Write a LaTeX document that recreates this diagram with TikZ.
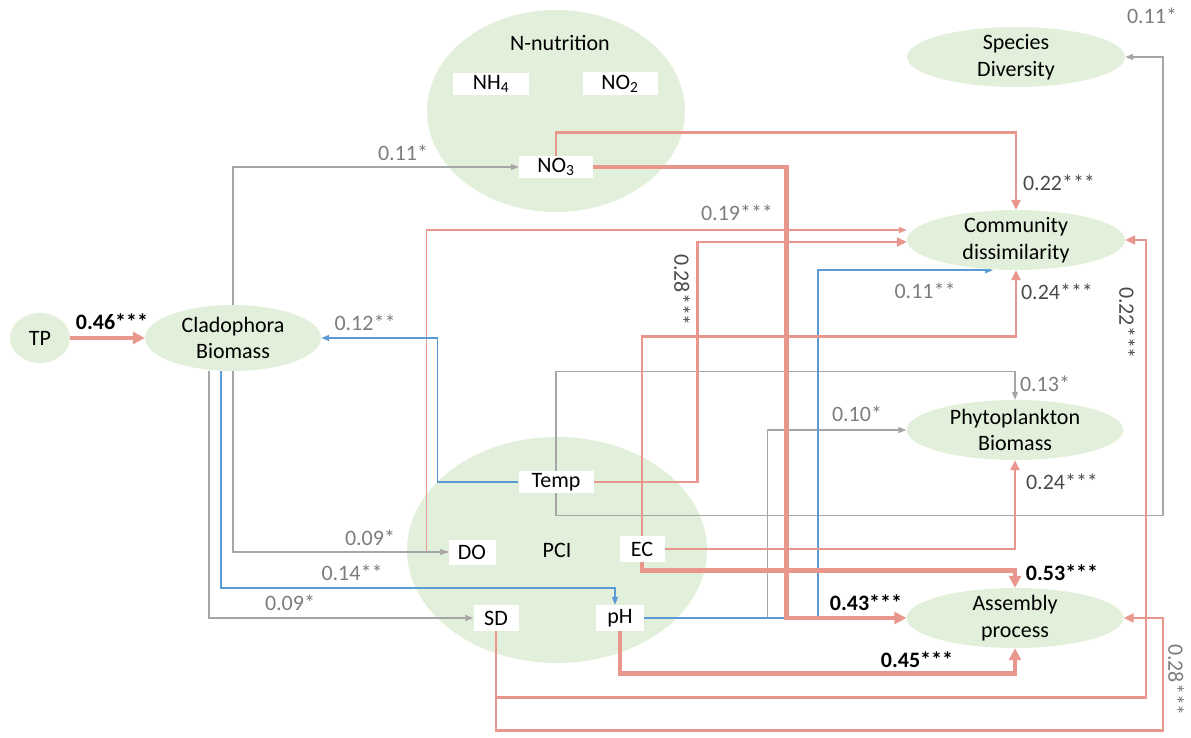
\documentclass[tikz,border=0pt]{standalone}
\usepackage{fontspec}
\setmainfont{Carlito}
\usetikzlibrary{arrows.meta,shapes.geometric}
\pgfdeclarelayer{bg}
\pgfdeclarelayer{lines}
\pgfsetlayers{bg,lines,main}
\definecolor{rd}{RGB}{233,150,140}
\definecolor{bl}{RGB}{91,155,213}
\definecolor{gr}{RGB}{166,166,166}
\definecolor{gf}{RGB}{226,239,218}
\definecolor{lg}{RGB}{125,125,125}
\definecolor{dg}{RGB}{75,75,75}
\begin{document}
\begin{tikzpicture}[x=1pt,y=-1pt,
 font=\fontsize{22}{26.5}\selectfont,
 ell/.style={ellipse,fill=gf,inner sep=0pt},
 etxt/.style={align=center,inner sep=0pt},
 wbox/.style={rectangle,fill=white,inner sep=0pt,align=center},
 thinr/.style={draw=rd,line width=1.3pt,-{Triangle[length=8pt,width=6pt]}},
 medr/.style={draw=rd,line width=2.9pt,-{Triangle[length=10pt,width=9pt]}},
 thickr/.style={draw=rd,line width=4.6pt,-{Triangle[length=12pt,width=12pt]}},
 gline/.style={draw=gr,line width=1.3pt,-{Triangle[length=8pt,width=6pt]}},
 bline/.style={draw=bl,line width=1.5pt,-{Triangle[length=8pt,width=6pt]}},
 lbl/.style={text=lg,inner sep=0pt},
 dlbl/.style={text=dg,inner sep=0pt},
 blbl/.style={font=\fontsize{22}{26.5}\selectfont\bfseries,text=black,inner sep=0pt},
]
\useasboundingbox (0,0) rectangle (1191,738);

% big group ellipses
\begin{pgfonlayer}{bg}
\node[ell,minimum width=258pt,minimum height=202pt] (nnut) at (556,111) {};
\node[ell,minimum width=300pt,minimum height=226pt] (pci) at (557,550) {};
\end{pgfonlayer}
\node[etxt] (nnutt) at (560,43) {N-nutrition};
\node[etxt] (pcit) at (557,550) {PCI};

% ellipses
\node[ell,minimum width=60pt,minimum height=50pt] (tp) at (40,338) {};
\node[etxt] (tpt) at (tp) {TP};
\node[ell,minimum width=176pt,minimum height=66pt] (clado) at (233,338) {};
\node[etxt] (cladot) at (clado) {Cladophora\\Biomass};
\node[ell,minimum width=218pt,minimum height=60pt] (species) at (1016,57) {};
\node[etxt] (speciest) at (species) {Species\\Diversity};
\node[ell,minimum width=218pt,minimum height=60pt] (comm) at (1016,240) {};
\node[etxt] (commt) at (comm) {Community\\dissimilarity};
\node[ell,minimum width=217pt,minimum height=60pt] (phyto) at (1015,430) {};
\node[etxt] (phytot) at (phyto) {Phytoplankton\\Biomass};
\node[ell,minimum width=217pt,minimum height=60pt] (asm) at (1015,618) {};
\node[etxt] (asmt) at (asm) {Assembly\\process};

% white boxes
\node[wbox,minimum width=76pt,minimum height=22pt] (nh4) at (491,84) {NH\textsubscript{4}};
\node[wbox,minimum width=75pt,minimum height=23pt] (no2) at (620,84) {NO\textsubscript{2}};
\node[wbox,minimum width=74pt,minimum height=22pt] (no3) at (556,167) {NO\textsubscript{3}};
\node[wbox,minimum width=75pt,minimum height=22pt] (temp) at (556,482) {Temp};
\node[wbox,minimum width=47pt,minimum height=25pt] (do) at (472,552) {DO};
\node[wbox,minimum width=45pt,minimum height=26pt] (ec) at (642,549) {EC};
\node[wbox,minimum width=45pt,minimum height=26pt] (sd) at (496,618) {SD};
\node[wbox,minimum width=48pt,minimum height=26pt] (ph) at (620,618) {pH};

% labels
\node[blbl] (l046) at (112,322) {0.46***};
\node[lbl] (l012) at (365,323) {0.12**};
\node[lbl] (l011a) at (403,153) {0.11*};
\node[dlbl] (l022a) at (1059,183) {0.22***};
\node[lbl] (l019) at (737,213) {0.19***};
\node[dlbl,rotate=-90] (l028a) at (682,290) {0.28***};
\node[lbl] (l011b) at (925,291) {0.11**};
\node[dlbl] (l024a) at (1057,292) {0.24***};
\node[dlbl,rotate=-90] (l022b) at (1127,323) {0.22***};
\node[lbl] (l013) at (1045,384) {0.13*};
\node[lbl] (l010) at (857,414) {0.10*};
\node[dlbl] (l024b) at (1062,482) {0.24***};
\node[lbl] (l009a) at (370,538) {0.09*};
\node[lbl] (l014) at (352,573) {0.14**};
\node[lbl] (l009b) at (290,603) {0.09*};
\node[blbl] (l053) at (1062,573) {0.53***};
\node[blbl] (l043) at (866,603) {0.43***};
\node[blbl] (l045) at (917,660) {0.45***};
\node[lbl,rotate=-90] (l028b) at (1176,680) {0.28***};
\node[lbl] (l011c) at (1152,16) {0.11*};

% connectors
\begin{pgfonlayer}{lines}
% gray
\draw[gline] (clado.north) |- (no3.west);
\draw[gline] (ph.east) -- ++(123,0) |- (phyto.west);
\draw[gline] (temp.north) -- ++(0,-99) -| (phyto.north);
\draw[gline] (temp.south) -- ++(0,22) -- ++(607,0) |- (species.east);
% thin red
\draw[thinr] (do.west) -- ++(-22,0) |- ([yshift=10pt]comm.west);
\draw[gline] (clado.south) |- (do.west);
\draw[gline] ([xshift=-24pt]clado.south) |- (sd.west);
% blue
\draw[bline] (temp.west) -- ++(-81,0) |- (clado.east);
\draw[bline] ([xshift=-12pt]clado.south) -- ++(0,217) -| ([xshift=-5pt]ph.north);
\draw[bline] (ph.east) -- ++(174,0) |- ([xshift=-23pt]comm.south);
% medium red
\draw[medr] (no3.north) -- ++(0,-23) -| (comm.north);
\draw[medr] (temp.east) -- ++(104,0) |- ([yshift=-2pt]comm.west);
\draw[medr] (ec.north) -- ++(0,-199) -| (comm.south);
\draw[medr] (ec.east) -| (phyto.south);
\draw[medr] (sd.south) -- ++(0,66) -- ++(650,0) |- (comm.east);
\draw[medr] (sd.south) -- ++(0,99) -- ++(667,0) |- (asm.east);
% thick red
\draw[thickr] (tp.east) -- (clado.west);
\draw[thickr] (no3.east) -- ++(193,0) |- (asm.west);
\draw[thickr] (ec.south) -- ++(0,8) -| (asm.north);
\draw[thickr] (ph.south) -- ++(0,42) -| (asm.south);
\end{pgfonlayer}
\end{tikzpicture}
\end{document}
